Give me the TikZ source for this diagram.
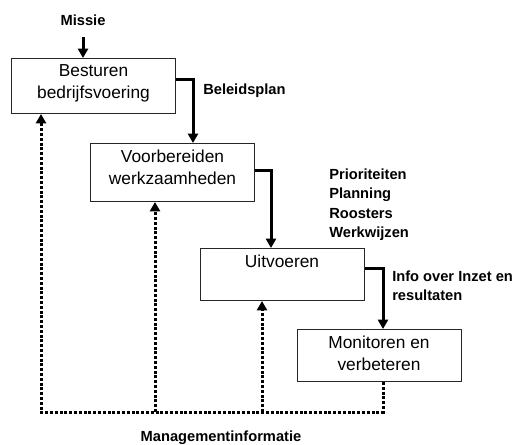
\documentclass[tikz,border=0pt]{standalone}
\usepackage{fontspec}
\setmainfont{Liberation Sans}
\usetikzlibrary{arrows.meta}
\tikzset{
	blok/.style={draw=black!85, line width=0.75pt, minimum width=122.5pt, anchor=north, inner sep=0pt},
	bloktekst/.style={anchor=north, align=center, inner sep=0pt, font=\fontsize{13}{16.5}\selectfont},
	info/.style={font=\bfseries\fontsize{11}{14.3}\selectfont, inner sep=0pt, align=left},
	stroom/.style={line width=2.25pt, -{Triangle[width=7.5pt,length=7pt]}},
	terug/.style={line width=2.25pt, dash pattern=on 2.2pt off 1.4pt, -{Triangle[width=7.5pt,length=7pt]}},
}

\begin{document}
\begin{tikzpicture}[x=0.75pt, y=-0.75pt]
	\useasboundingbox (0,0) rectangle (517,445);
	% de vier blokken
	\node[blok, minimum height=41.25pt] (bes) at (93.5,58) {};
	\node[blok, minimum height=43.5pt] (voo) at (172.5,143) {};
	\node[blok, minimum height=39pt, minimum width=123pt] (uit) at (282,248) {};
	\node[blok, minimum height=39pt, minimum width=123pt] (mon) at (379,329) {};
	\node[bloktekst] (besT) at ([yshift=-5pt]bes.north) {Besturen\\bedrijfsvoering};
	\node[bloktekst] (vooT) at ([yshift=-5pt]voo.north) {Voorbereiden\\werkzaamheden};
	\node[bloktekst] (uitT) at ([yshift=-5pt]uit.north) {Uitvoeren};
	\node[bloktekst] (monT) at ([yshift=-5pt]mon.north) {Monitoren en\\verbeteren};
	% teksten bij de pijlen
	\node[info] (missie) at (83,20) {Missie};
	\node[info, anchor=west] (beleid) at (203,91) {Beleidsplan};
	\node[info, anchor=north west] (prio) at (329,169) {Prioriteiten\\Planning\\Roosters\\Werkwijzen};
	\node[info, anchor=north west] (inzet) at (392,271) {Info over Inzet en\\resultaten};
	\node[info] (mi) at (221,438) {Managementinformatie};
	% knikpunten
	\coordinate (k1) at (193,80);
	\coordinate (k2) at (271,171);
	\coordinate (k3) at (383,268);
	\coordinate (m1) at (41,412);
	\coordinate (m2) at (155,412);
	\coordinate (m3) at (262,412);
	% doorgaande pijlen
	\draw[stroom] (missie.south |- 0,37) -- (missie.south |- bes.north);
	\draw[stroom] (bes.east |- k1) -- (k1) -- (voo.north -| k1);
	\draw[stroom] (voo.east |- k2) -- (k2) -- (uit.north -| k2);
	\draw[stroom] (uit.east |- k3) -- (k3) -- (mon.north -| k3);
	% terugkoppeling (gestippeld)
	\draw[terug] (mon.south -| k3) -- (k3 |- m1) -- (m1) -- (bes.south -| m1);
	\draw[terug] (m2) -- (voo.south -| m2);
	\draw[terug] (m3) -- (uit.south -| m3);
\end{tikzpicture}
\end{document}
